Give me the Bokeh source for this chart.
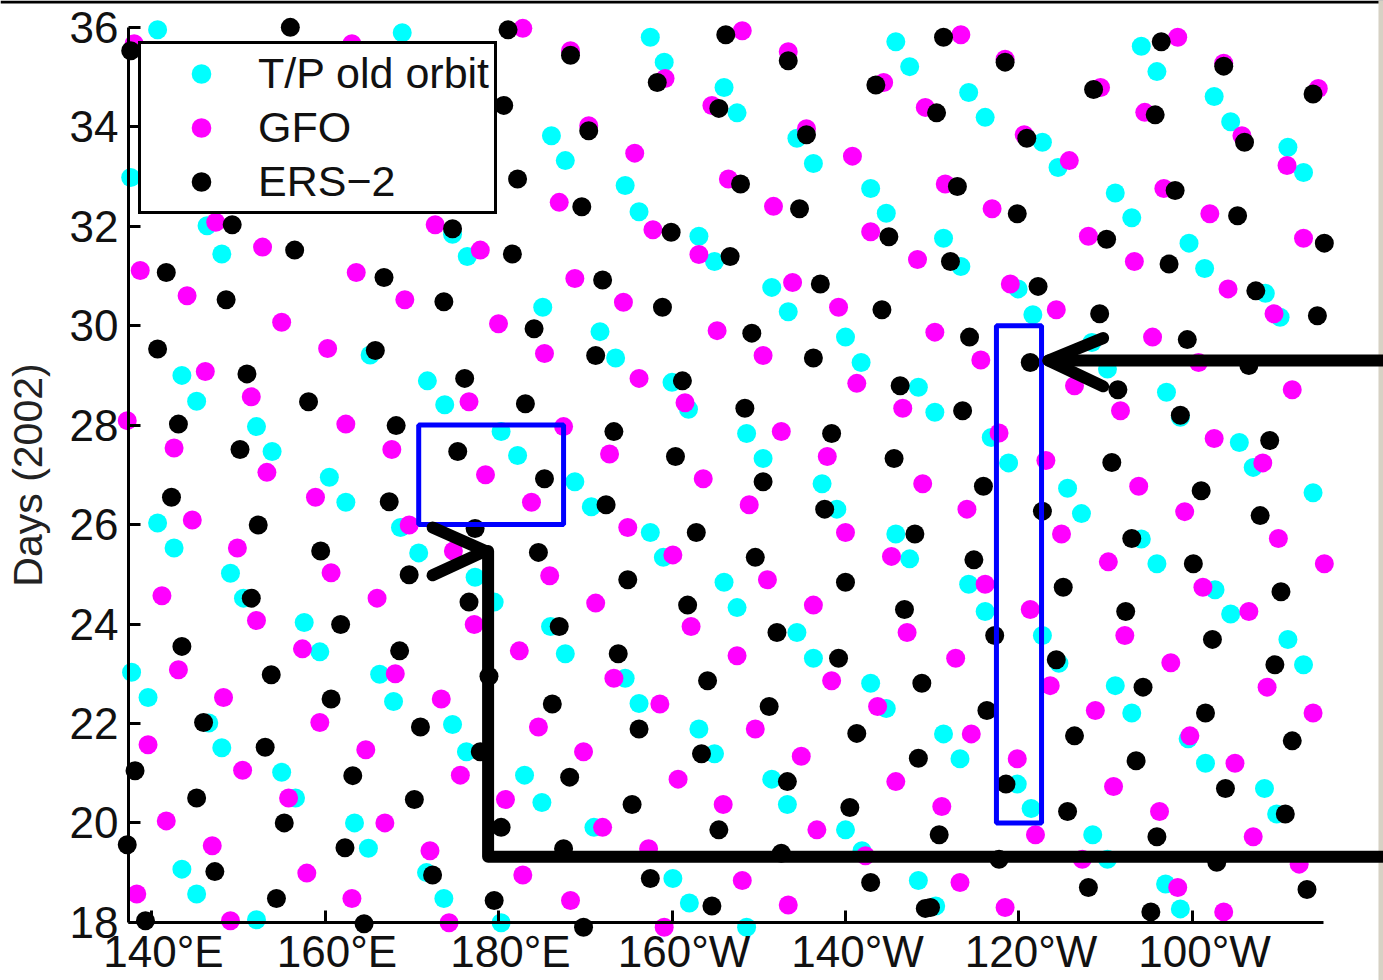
from bokeh.plotting import figure
from bokeh.models import (Range1d, FixedTicker, Legend, LegendItem, Label,
                          BoxAnnotation, LinearAxis)
from bokeh.embed import file_html
from bokeh.resources import INLINE

# Crossing times of the three altimeter ground tracks:
# longitude in degrees east, time in days of 2002.
tp_lon = [140.7, 168.9, 197.5, 225.8, 199.1, 227.4, 254.1, 255.9, 206.0, 207.5,
          234.2, 236.1, 262.5, 264.4, 186.1, 187.7, 214.4, 216.3, 242.7, 244.5,
          271.0, 272.8, 137.6, 194.6, 196.2, 222.9, 224.7, 251.1, 253.0, 146.4,
          174.7, 148.1, 176.4, 203.1, 204.9, 231.3, 233.3, 259.6, 261.4, 185.1,
          211.5, 213.4, 239.9, 241.6, 268.4, 270.1, 191.7, 193.5, 220.0, 221.8,
          248.4, 250.2, 165.2, 143.5, 145.2, 171.8, 173.8, 200.0, 201.9, 228.4,
          230.3, 257.0, 258.6, 152.1, 153.9, 180.3, 182.2, 208.6, 210.5, 236.8,
          238.8, 265.4, 267.0, 160.5, 162.4, 188.8, 190.7, 217.3, 219.0, 245.6,
          247.2, 273.9, 140.7, 142.6, 168.7, 170.8, 197.5, 199.0, 225.8, 227.4,
          254.1, 255.9, 149.1, 150.6, 177.3, 179.5, 206.0, 207.5, 234.2, 236.1,
          262.6, 264.4, 157.6, 159.4, 186.0, 187.7, 214.4, 216.3, 242.7, 244.6,
          271.0, 272.8, 137.7, 139.6, 166.3, 167.9, 194.6, 196.2, 222.9, 224.7,
          251.1, 253.0, 146.6, 148.1, 174.7, 176.3, 203.1, 204.9, 231.3, 233.2,
          259.5, 261.5, 155.0, 156.6, 183.0, 185.0, 211.5, 213.3, 239.8, 241.4,
          268.3, 269.7, 163.4, 165.0, 191.0, 220.0, 221.9, 248.5, 250.2, 143.5,
          145.2, 171.7, 173.7, 200.1, 202.0, 228.4, 230.4, 256.9, 258.6, 152.1,
          180.3, 208.6]
tp_day = [35.95, 35.89, 35.80, 35.71, 35.30, 35.21, 35.62, 35.11, 34.79, 34.28,
          34.69, 34.19, 34.61, 34.10, 33.82, 33.32, 33.77, 33.26, 33.69, 33.18,
          33.59, 33.08, 32.98, 32.82, 32.29, 32.76, 32.26, 32.67, 32.17, 32.01,
          31.84, 31.44, 31.39, 31.80, 31.29, 31.76, 31.19, 31.66, 31.15, 30.37,
          30.77, 30.28, 30.74, 30.22, 30.65, 30.17, 29.88, 29.35, 29.77, 29.26,
          29.66, 29.13, 29.41, 29.00, 28.48, 28.89, 28.41, 28.86, 28.32, 28.76,
          28.26, 28.66, 28.16, 27.97, 27.47, 27.87, 27.39, 27.83, 27.33, 27.75,
          27.24, 27.65, 27.15, 26.95, 26.45, 26.86, 26.36, 26.82, 26.31, 26.73,
          26.22, 26.64, 26.03, 25.53, 25.94, 25.43, 25.84, 25.34, 25.81, 25.31,
          25.71, 25.21, 25.02, 24.52, 24.94, 24.44, 24.84, 24.33, 24.80, 24.25,
          24.69, 24.20, 24.03, 23.44, 23.95, 23.40, 23.83, 23.31, 23.77, 23.21,
          23.69, 23.18, 23.03, 22.52, 22.99, 22.44, 22.91, 22.40, 22.81, 22.30,
          22.76, 22.21, 22.01, 21.51, 21.98, 21.43, 21.89, 21.39, 21.79, 21.29,
          21.69, 21.20, 21.02, 20.50, 20.96, 20.41, 20.88, 20.37, 20.78, 20.29,
          20.69, 20.18, 20.00, 19.49, 19.91, 19.86, 19.44, 19.76, 19.27, 19.07,
          18.57, 19.00, 18.48, 18.88, 18.39, 18.84, 18.33, 18.77, 18.27, 18.05,
          17.99, 17.90]

gfo_lon = [138.0, 163.1, 182.8, 208.1, 188.3, 199.2, 213.4, 224.4, 233.3, 238.4,
           258.3, 263.6, 274.5, 249.4, 229.2, 204.6, 254.5, 265.7, 190.4, 195.7,
           215.5, 220.8, 240.6, 245.8, 270.9, 231.5, 256.7, 206.5, 187.0, 211.7,
           236.9, 262.0, 147.4, 172.7, 197.8, 222.9, 248.0, 272.8, 152.8, 177.9,
           203.1, 228.3, 253.3, 138.7, 163.6, 188.8, 213.9, 239.0, 264.1, 144.1,
           169.2, 194.4, 219.2, 244.3, 269.4, 155.0, 180.0, 205.2, 230.3, 255.4,
           160.3, 185.3, 210.5, 235.6, 260.7, 146.2, 196.2, 221.3, 246.4, 271.5,
           151.5, 176.6, 201.5, 226.6, 251.7, 137.2, 162.4, 187.5, 212.6, 237.7,
           262.5, 142.6, 167.7, 192.8, 217.9, 243.1, 268.1, 153.3, 178.5, 203.6,
           228.9, 253.8, 158.9, 183.8, 208.9, 234.0, 259.1, 144.7, 169.7, 194.9,
           220.0, 244.9, 269.9, 149.9, 174.8, 200.1, 225.3, 250.3, 275.2, 160.7,
           185.9, 211.0, 236.1, 261.2, 141.2, 166.0, 191.2, 216.3, 241.3, 266.5,
           152.1, 177.2, 202.2, 227.1, 252.2, 157.4, 182.4, 207.5, 232.7, 257.5,
           143.1, 168.1, 193.3, 218.4, 243.6, 268.6, 148.3, 173.4, 198.6, 223.7,
           248.8, 273.9, 159.4, 184.6, 209.6, 234.5, 259.7, 139.6, 164.7, 189.8,
           214.9, 239.8, 264.9, 150.5, 175.6, 200.7, 225.8, 250.9, 155.8, 180.8,
           205.9, 231.1, 256.2, 141.7, 166.9, 192.0, 216.7, 241.9, 267.0, 147.0,
           172.1, 197.3, 222.3, 247.3, 272.3, 157.9, 182.8, 208.1, 233.2, 258.3,
           138.3, 163.1, 188.3, 213.4, 238.4, 263.6, 149.1, 174.3, 199.1]
gfo_day = [35.67, 35.67, 35.98, 35.93, 35.53, 34.97, 35.51, 34.89, 35.85, 35.36,
           35.80, 35.28, 34.77, 34.79, 34.39, 34.43, 34.29, 33.82, 34.02, 33.47,
           33.96, 33.41, 33.84, 33.32, 33.22, 32.85, 32.76, 32.95, 32.48, 32.40,
           32.35, 32.25, 32.08, 32.03, 31.93, 31.89, 31.80, 31.76, 31.58, 31.52,
           31.43, 31.33, 31.29, 31.11, 31.07, 30.95, 30.87, 30.84, 30.74, 30.60,
           30.52, 30.47, 30.37, 30.32, 30.24, 30.07, 30.04, 29.90, 29.87, 29.77,
           29.54, 29.44, 29.40, 29.31, 29.26, 29.08, 28.94, 28.84, 28.79, 28.71,
           28.57, 28.47, 28.45, 28.34, 28.29, 28.09, 28.02, 27.97, 27.87, 27.84,
           27.73, 27.54, 27.51, 27.42, 27.37, 27.29, 27.24, 27.05, 27.00, 26.92,
           26.82, 26.77, 26.55, 26.45, 26.40, 26.31, 26.26, 26.09, 25.99, 25.94,
           25.84, 25.81, 25.72, 25.53, 25.47, 25.39, 25.36, 25.25, 25.21, 25.03,
           24.97, 24.89, 24.80, 24.74, 24.57, 24.52, 24.42, 24.38, 24.29, 24.25,
           24.07, 23.99, 23.95, 23.83, 23.77, 23.50, 23.46, 23.36, 23.31, 23.22,
           23.08, 23.00, 22.91, 22.86, 22.76, 22.73, 22.52, 22.49, 22.39, 22.34,
           22.26, 22.21, 22.02, 21.93, 21.89, 21.79, 21.75, 21.57, 21.47, 21.43,
           21.34, 21.29, 21.20, 21.06, 20.96, 20.88, 20.83, 20.73, 20.50, 20.47,
           20.37, 20.33, 20.23, 20.04, 20.00, 19.91, 19.86, 19.76, 19.72, 19.54,
           19.44, 19.48, 19.34, 19.27, 19.17, 18.99, 18.95, 18.84, 18.80, 18.70,
           18.57, 18.48, 18.44, 18.35, 18.30, 18.21, 18.03, 17.99, 17.90]

ers_lon = [137.6, 156.0, 181.1, 180.6, 182.2, 149.3, 174.7, 156.5, 181.6, 141.7,
           166.8, 148.6, 173.7, 206.2, 188.3, 198.3, 213.4, 223.5, 205.4, 190.4,
           207.9, 215.5, 189.6, 199.9, 206.7, 214.7, 225.0, 192.0, 198.9, 217.1,
           224.2, 184.1, 209.2, 231.3, 238.4, 256.4, 263.6, 273.9, 230.5, 248.6,
           266.0, 255.7, 240.9, 232.9, 258.0, 239.8, 265.2, 232.1, 250.1, 257.3,
           275.2, 242.2, 249.3, 267.3, 274.4, 140.7, 165.8, 151.0, 176.1, 158.1,
           183.1, 143.1, 168.2, 150.2, 175.3, 142.3, 167.4, 152.3, 177.3, 159.5,
           169.7, 151.5, 176.6, 161.8, 191.2, 216.3, 201.2, 208.4, 226.3, 193.3,
           218.4, 200.4, 225.6, 185.3, 210.5, 192.4, 217.6, 202.8, 228.0, 184.6,
           209.6, 194.9, 220.0, 201.8, 226.8, 187.0, 212.1, 234.3, 241.3, 259.4,
           266.5, 251.4, 258.6, 233.5, 250.7, 268.9, 235.9, 261.0, 242.7, 267.8,
           253.0, 234.8, 260.1, 245.1, 270.2, 252.3, 143.5, 168.6, 153.8, 178.9,
           160.7, 146.0, 171.0, 153.1, 177.9, 138.1, 163.2, 145.2, 170.3, 155.3,
           180.3, 137.2, 162.3, 147.3, 172.4, 154.4, 179.5, 139.3, 164.5, 193.8,
           219.2, 204.1, 228.8, 186.2, 211.2, 196.2, 221.3, 203.4, 228.4, 188.2,
           213.3, 195.4, 220.5, 205.4, 187.5, 212.6, 197.5, 222.9, 204.6, 229.2,
           189.8, 237.2, 262.3, 244.3, 269.5, 254.3, 236.3, 261.5, 246.4, 271.5,
           253.5, 238.5, 263.8, 245.6, 270.7, 230.8, 255.9, 237.7, 262.8, 248.0,
           273.2, 229.8, 255.2]
ers_day = [35.53, 36.00, 35.95, 34.43, 32.95, 32.03, 31.95, 31.52, 31.44, 31.07,
           30.97, 30.52, 30.48, 35.85, 35.44, 34.89, 35.33, 34.84, 34.37, 33.92,
           32.85, 33.84, 32.39, 31.88, 31.39, 32.35, 31.79, 30.92, 30.37, 30.84,
           30.32, 29.94, 29.85, 35.80, 35.30, 35.71, 35.22, 34.66, 34.28, 34.75,
           33.69, 34.24, 33.77, 32.80, 32.72, 32.25, 32.21, 31.29, 31.74, 31.24,
           31.66, 30.79, 30.24, 30.70, 30.20, 29.53, 29.50, 29.03, 28.94, 28.47,
           28.43, 28.02, 27.99, 27.51, 27.47, 26.55, 26.46, 25.99, 25.92, 25.47,
           24.99, 24.52, 24.44, 23.99, 29.40, 29.35, 28.89, 28.34, 28.79, 27.87,
           27.83, 27.37, 27.33, 26.92, 26.86, 26.40, 26.31, 25.84, 25.81, 25.44,
           25.34, 24.89, 24.84, 24.38, 24.29, 23.95, 23.83, 29.77, 29.26, 29.72,
           29.20, 28.71, 28.20, 28.29, 27.25, 27.69, 26.77, 26.68, 26.27, 26.18,
           25.72, 25.29, 25.21, 24.74, 24.65, 24.25, 23.55, 23.46, 22.98, 22.95,
           22.49, 22.02, 21.93, 21.52, 21.43, 21.05, 20.95, 20.50, 20.47, 20.00,
           19.91, 19.56, 19.50, 19.02, 18.95, 18.48, 18.44, 18.03, 17.97, 23.40,
           23.31, 22.86, 22.81, 22.39, 22.34, 21.89, 21.80, 21.39, 21.30, 20.92,
           20.83, 20.37, 20.31, 19.86, 19.48, 19.39, 18.88, 18.80, 18.33, 18.28,
           17.90, 23.77, 23.69, 23.28, 23.18, 22.73, 22.26, 22.21, 21.75, 21.65,
           21.25, 20.78, 20.69, 20.23, 20.18, 19.76, 19.72, 19.27, 19.21, 18.70,
           18.66, 18.30, 18.21]

x_ticks = [140, 160, 180, 200, 220, 240, 260]
x_tick_labels = ["140°E", "160°E", "180°E", "160°W", "140°W", "120°W", "100°W"]
y_ticks = [18, 20, 22, 24, 26, 28, 30, 32, 34, 36]

# highlighted regions (longitude span, day span)
box_lon0 = [170.8, 237.4]
box_lon1 = [187.5, 242.6]
box_day0 = [26.0, 20.0]
box_day1 = [28.0, 30.0]

# pointer arrows: shafts and heads
arrow_lon = [[283.0, 243.4], [249.7, 243.4, 249.7],
             [283.0, 178.8, 178.8], [172.4, 178.5, 172.4]]
arrow_day = [[29.30, 29.30], [29.75, 29.30, 28.78],
             [19.32, 19.32, 25.47], [25.94, 25.47, 24.98]]

FONT = "Liberation Sans"

p = figure(width=1383, height=980, output_backend="svg", toolbar_location=None,
           x_range=Range1d(122.59, 282.02), y_range=Range1d(16.83, 36.54),
           x_axis_location=None, y_axis_location=None,
           min_border_left=0, min_border_right=0, min_border_top=0,
           min_border_bottom=0)
p.grid.visible = False
p.outline_line_color = None
p.background_fill_color = "white"
p.border_fill_color = "white"

# window frame edges, kept beneath the marks
p.add_layout(BoxAnnotation(bottom=36.48, fill_color="black", fill_alpha=1.0,
                           line_color=None, level="underlay"))
p.add_layout(BoxAnnotation(left=281.44, fill_color="#d6d1c4", fill_alpha=1.0,
                           line_color=None, level="underlay"))

yaxis = LinearAxis(fixed_location=137.35, bounds=(18, 36),
                   ticker=FixedTicker(ticks=y_ticks), axis_label="Days (2002)")
xaxis = LinearAxis(fixed_location=18, bounds=(137.35, 275.1),
                   ticker=FixedTicker(ticks=x_ticks),
                   major_label_overrides={t: "" for t in x_ticks})
for ax in (yaxis, xaxis):
    ax.axis_line_width = 3
    ax.axis_line_color = "black"
    ax.major_tick_line_width = 3
    ax.major_tick_line_color = "black"
    ax.major_tick_in = 12
    ax.major_tick_out = 0
    ax.minor_tick_line_color = None
xaxis.major_label_text_font_size = "0px"
xaxis.major_label_standoff = 0
yaxis.major_label_text_font = FONT
yaxis.major_label_text_font_size = "44px"
yaxis.major_label_text_color = "#111111"
yaxis.major_label_standoff = 10
yaxis.axis_label_text_font = FONT
yaxis.axis_label_text_font_size = "41px"
yaxis.axis_label_text_font_style = "normal"
yaxis.axis_label_text_color = "#222222"
yaxis.axis_label_standoff = 16
p.add_layout(yaxis, "left")
p.add_layout(xaxis, "below")

r_tp = p.scatter(tp_lon, tp_day, size=19, fill_color="#00ffff", line_color=None)
r_gfo = p.scatter(gfo_lon, gfo_day, size=19, fill_color="#ff00ff", line_color=None)
r_ers = p.scatter(ers_lon, ers_day, size=19, fill_color="#000000", line_color=None)

p.quad(left=box_lon0, right=box_lon1, bottom=box_day0, top=box_day1,
       fill_color=None, line_color="#0000ff", line_width=5)
p.multi_line(xs=arrow_lon, ys=arrow_day, line_color="black", line_width=12,
             line_cap="round", line_join="round")

# longitude labels under the bottom axis
for t, s in zip(x_ticks, x_tick_labels):
    p.add_layout(Label(x=t, y=18, text=s, text_align="center",
                       text_baseline="top", x_offset=12, y_offset=-5,
                       text_font=FONT, text_font_size="44px",
                       text_color="#111111"))

legend = Legend(items=[LegendItem(label="T/P old orbit", renderers=[r_tp]),
                       LegendItem(label="GFO", renderers=[r_gfo]),
                       LegendItem(label="ERS\u22122", renderers=[r_ers])],
                location=(138, 766), margin=0, padding=5, spacing=5,
                glyph_width=110, glyph_height=49, label_height=49,
                label_standoff=2, label_text_font=FONT,
                label_text_font_size="43px", label_text_color="#111111",
                border_line_color="black", border_line_width=3,
                border_line_alpha=1.0,
                background_fill_color="white", background_fill_alpha=1.0)
p.add_layout(legend)

open("out.html", "w").write(file_html(p, INLINE))
